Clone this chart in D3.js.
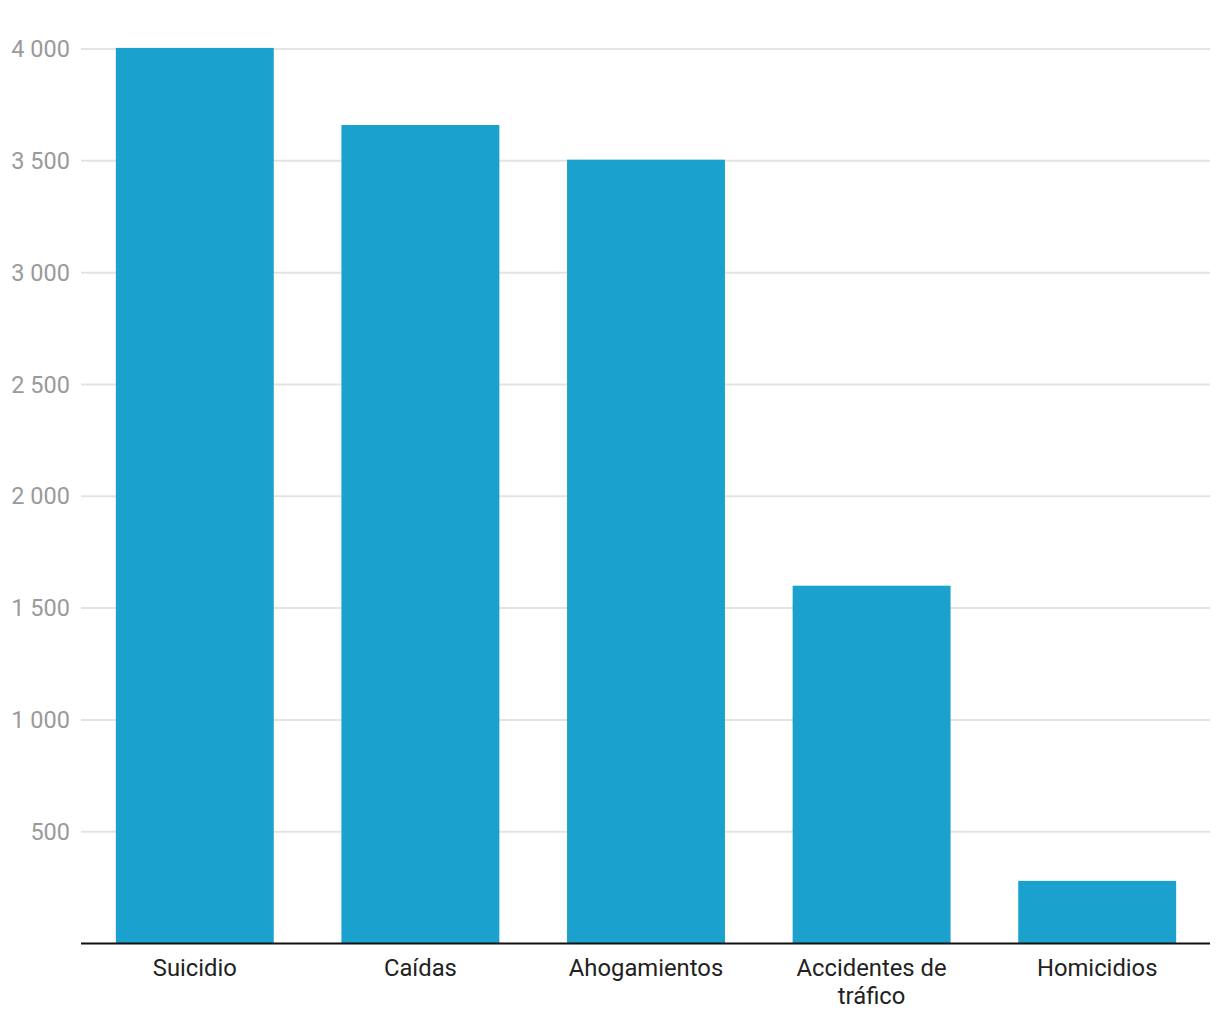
<!DOCTYPE html>
<html><head><meta charset="utf-8">
<script src="https://cdn.jsdelivr.net/npm/d3@7"></script>
<style>body{margin:0;background:#fff;} svg{display:block;font-family:Roboto,sans-serif;}</style>
</head><body>
<svg id="chart" width="1220" height="1020"></svg>
<script>
const categories = ["Suicidio", "Caídas", "Ahogamientos", "Accidentes de tráfico", "Homicidios"];
const categoryLines = [["Suicidio"], ["Caídas"], ["Ahogamientos"], ["Accidentes de", "tráfico"], ["Homicidios"]];
const values = [4005, 3660, 3505, 1600, 280];
const yTicks = [500, 1000, 1500, 2000, 2500, 3000, 3500, 4000];

const svg = d3.select("#chart");
const mLeft = 81, mRight = 1210, mTop = 49, mBottom = 943.5;

const x = d3.scaleBand().domain(categories).range([mLeft + 1, mRight]).paddingInner(0.3).paddingOuter(0.15);
const y = d3.scaleLinear().domain([0, 4000]).range([mBottom, mTop]);

const fmt = v => d3.format(",")(v).replace(/,/g, " ");

// gridlines
svg.append("g").selectAll("line").data(yTicks).join("line")
  .attr("x1", mLeft).attr("x2", mRight)
  .attr("y1", d => y(d)).attr("y2", d => y(d))
  .attr("stroke", "#e3e3e3").attr("stroke-width", 2);

// y labels
svg.append("g").selectAll("text").data(yTicks).join("text")
  .attr("x", 70).attr("y", d => y(d)).attr("dy", "0.35em")
  .attr("text-anchor", "end").attr("fill", "#9a9a9a").attr("font-size", 23.5)
  .text(d => fmt(d));

// bars
svg.append("g").selectAll("rect").data(values).join("rect")
  .attr("x", (d, i) => x(categories[i])).attr("width", x.bandwidth())
  .attr("y", d => y(d)).attr("height", d => y(0) - y(d))
  .attr("fill", "#1aa1cd");

// baseline
svg.append("line").attr("x1", mLeft).attr("x2", mRight)
  .attr("y1", y(0)).attr("y2", y(0)).attr("stroke", "#111").attr("stroke-width", 2);

// x labels
const xl = svg.append("g").selectAll("text").data(categories).join("text")
  .attr("x", d => x(d) + x.bandwidth() / 2).attr("y", 975.5)
  .attr("text-anchor", "middle").attr("fill", "#222").attr("font-size", 23.8);
xl.each(function(d, i) {
  d3.select(this).selectAll("tspan").data(categoryLines[i]).join("tspan")
    .attr("x", x(d) + x.bandwidth() / 2).attr("dy", (t, j) => j === 0 ? 0 : 28).text(t => t);
});
</script>
</body></html>
